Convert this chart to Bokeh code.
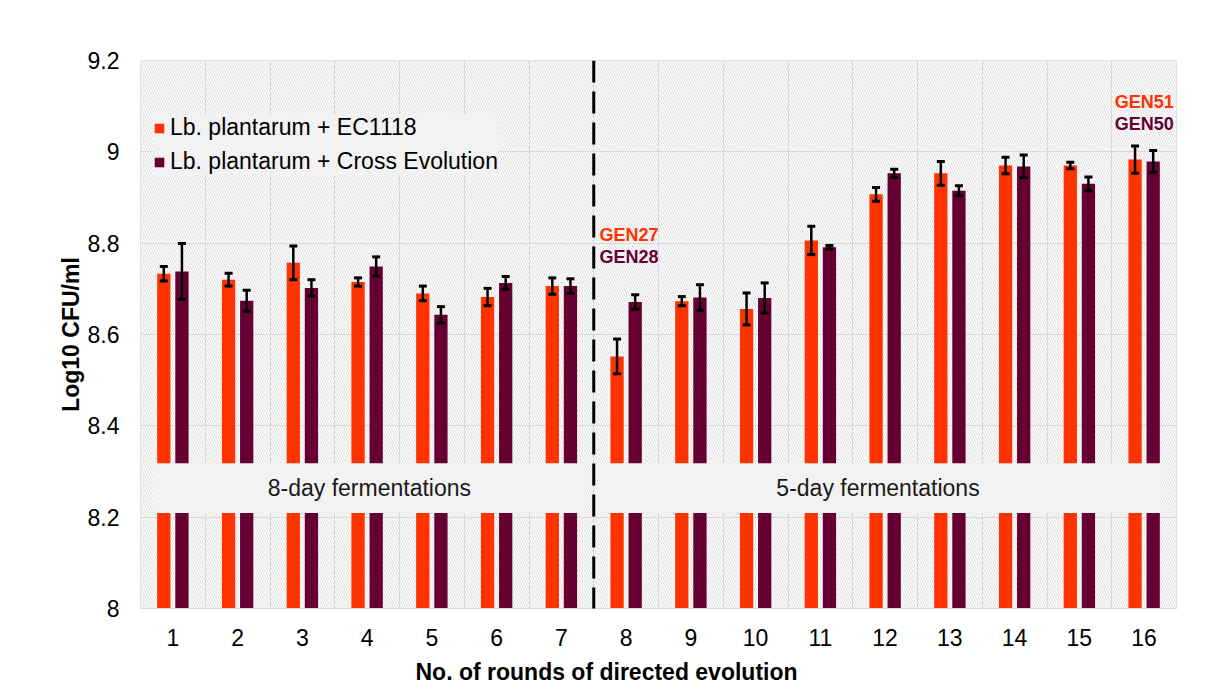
from bokeh.plotting import figure
from bokeh.models import (ColumnDataSource, FixedTicker, Whisker, TeeHead, Legend, LegendItem,
                          Label, Arrow, BoxAnnotation, Title)
from bokeh.embed import file_html
from bokeh.resources import INLINE

# ---- data ----
rounds = list(range(1, 17))
x_tick_labels = [str(r) for r in rounds]
ec1118 = [8.733, 8.720, 8.757, 8.715, 8.690, 8.682, 8.706, 8.552,
          8.673, 8.656, 8.806, 8.907, 8.953, 8.970, 8.970, 8.983]
ec1118_err = [0.016, 0.014, 0.037, 0.009, 0.016, 0.019, 0.018, 0.038,
              0.010, 0.035, 0.031, 0.015, 0.026, 0.018, 0.007, 0.030]
cross = [8.738, 8.674, 8.702, 8.749, 8.643, 8.713, 8.706, 8.671,
         8.681, 8.680, 8.791, 8.953, 8.915, 8.968, 8.930, 8.979]
cross_err = [0.061, 0.023, 0.018, 0.021, 0.018, 0.014, 0.016, 0.016,
             0.028, 0.033, 0.004, 0.009, 0.011, 0.025, 0.015, 0.024]
y_ticks = [8.0, 8.2, 8.4, 8.6, 8.8, 9.0, 9.2]
y_tick_labels = ["8", "8.2", "8.4", "8.6", "8.8", "9", "9.2"]
series_names = ["Lb. plantarum + EC1118", "Lb. plantarum + Cross Evolution"]
band_labels = ["8-day fermentations", "5-day fermentations"]
gen_labels = [("GEN27", "GEN28"), ("GEN51", "GEN50")]

ORANGE = "#FF3300"
PURPLE = "#660033"
FONT = "Liberation Sans"
GRID = "#d9d9d9"

p = figure(width=1208, height=695, x_range=(0.5, 16.5), y_range=(8.0, 9.2),
           output_backend="svg", toolbar_location=None,
           min_border_left=140, min_border_right=32, min_border_top=60, min_border_bottom=87)
p.background_fill_color = "white"
p.border_fill_color = "white"
p.outline_line_color = GRID
p.outline_line_width = 1

# hatched plot-area background
p.add_layout(BoxAnnotation(level="image", fill_color="white", fill_alpha=1.0,
                           hatch_pattern="\\", hatch_color="#dcdcdc", hatch_scale=5,
                           hatch_weight=1, line_color=None))

off = 0.14
bw = 0.205
src = ColumnDataSource(dict(
    x1=[r - off for r in rounds], x2=[r + off for r in rounds],
    y1=ec1118, y2=cross,
    lo1=[v - e for v, e in zip(ec1118, ec1118_err)], hi1=[v + e for v, e in zip(ec1118, ec1118_err)],
    lo2=[v - e for v, e in zip(cross, cross_err)], hi2=[v + e for v, e in zip(cross, cross_err)],
))

r1 = p.vbar(x="x1", top="y1", bottom=8.0, width=bw, source=src, fill_color=ORANGE, line_color=None)
r2 = p.vbar(x="x2", top="y2", bottom=8.0, width=bw, source=src, fill_color=PURPLE, line_color=None)

for lo, hi, xx in (("lo1", "hi1", "x1"), ("lo2", "hi2", "x2")):
    w = Whisker(source=src, base=xx, lower=lo, upper=hi, dimension="height", level="annotation",
                line_color="black", line_width=2.5,
                upper_head=TeeHead(size=8, line_width=3, line_color="black"),
                lower_head=TeeHead(size=8, line_width=3, line_color="black"))
    p.add_layout(w)

# fermentation bands (drawn over bars)
p.quad(left=[0.696, 7.558], right=[7.373, 16.268], bottom=8.209, top=8.318,
       fill_color="#f2f2f2", line_color=None)
for xc, t in zip([4.035, 11.89], band_labels):
    p.add_layout(Label(x=xc, y=8.2635, text=t, text_align="center", text_baseline="middle",
                       text_font=FONT, text_font_size="23px", text_color="#1a1a1a"))

# dashed divider
p.add_layout(Arrow(x_start=7.5, y_start=9.2, x_end=7.5, y_end=7.919, end=None,
                   line_color="black", line_width=3, line_dash="22 9"))

# GEN annotations
for (ga, gb), xl, ya, yb in ((gen_labels[0], 7.589, 8.817, 8.769),
                             (gen_labels[1], 15.547, 9.109, 9.061)):
    p.add_layout(Label(x=xl, y=ya, text=ga, text_baseline="middle", text_font=FONT,
                       text_font_size="18px", text_font_style="bold", text_color=ORANGE))
    p.add_layout(Label(x=xl, y=yb, text=gb, text_baseline="middle", text_font=FONT,
                       text_font_size="18px", text_font_style="bold", text_color=PURPLE))

# axes
p.xaxis.ticker = FixedTicker(ticks=rounds)
p.xaxis.major_label_overrides = {r: l for r, l in zip(rounds, x_tick_labels)}
p.yaxis.ticker = FixedTicker(ticks=y_ticks)
p.yaxis.major_label_overrides = {t: l for t, l in zip(y_ticks, y_tick_labels)}
for ax in (p.xaxis, p.yaxis):
    ax.major_tick_line_color = None
    ax.minor_tick_line_color = None
    ax.major_label_text_font = FONT
    ax.major_label_text_font_size = "23px"
    ax.major_label_text_color = "black"
    ax.axis_label_text_font = FONT
    ax.axis_label_text_font_size = "23px"
    ax.axis_label_text_font_style = "bold"
    ax.axis_label_text_color = "black"
p.xaxis.axis_line_color = GRID
p.yaxis.axis_line_color = None
p.xaxis.major_label_standoff = 14
p.yaxis.major_label_standoff = 15
p.yaxis.axis_label = "Log10 CFU/ml"
p.yaxis.axis_label_standoff = 1

xt = Title(text="No. of rounds of directed evolution", align="left", offset=275,
           text_font=FONT, text_font_size="23px", text_font_style="bold",
           text_color="black", standoff=16)
p.add_layout(xt, "below")

p.ygrid.ticker = FixedTicker(ticks=y_ticks)
p.xgrid.ticker = FixedTicker(ticks=[r + 0.5 for r in rounds[:-1]])
p.grid.grid_line_color = GRID
p.grid.grid_line_width = 1

legend = Legend(items=[LegendItem(label=series_names[0], renderers=[r1]),
                       LegendItem(label=series_names[1], renderers=[r2])],
                location=(13, 433), background_fill_color="#f2f2f2", background_fill_alpha=1,
                border_line_color=None, label_text_font=FONT, label_text_font_size="23px",
                label_text_color="black", glyph_width=12, glyph_height=12,
                label_standoff=5, padding=8, spacing=7, margin=0)
p.add_layout(legend)

open("out.html", "w").write(file_html(p, INLINE))
